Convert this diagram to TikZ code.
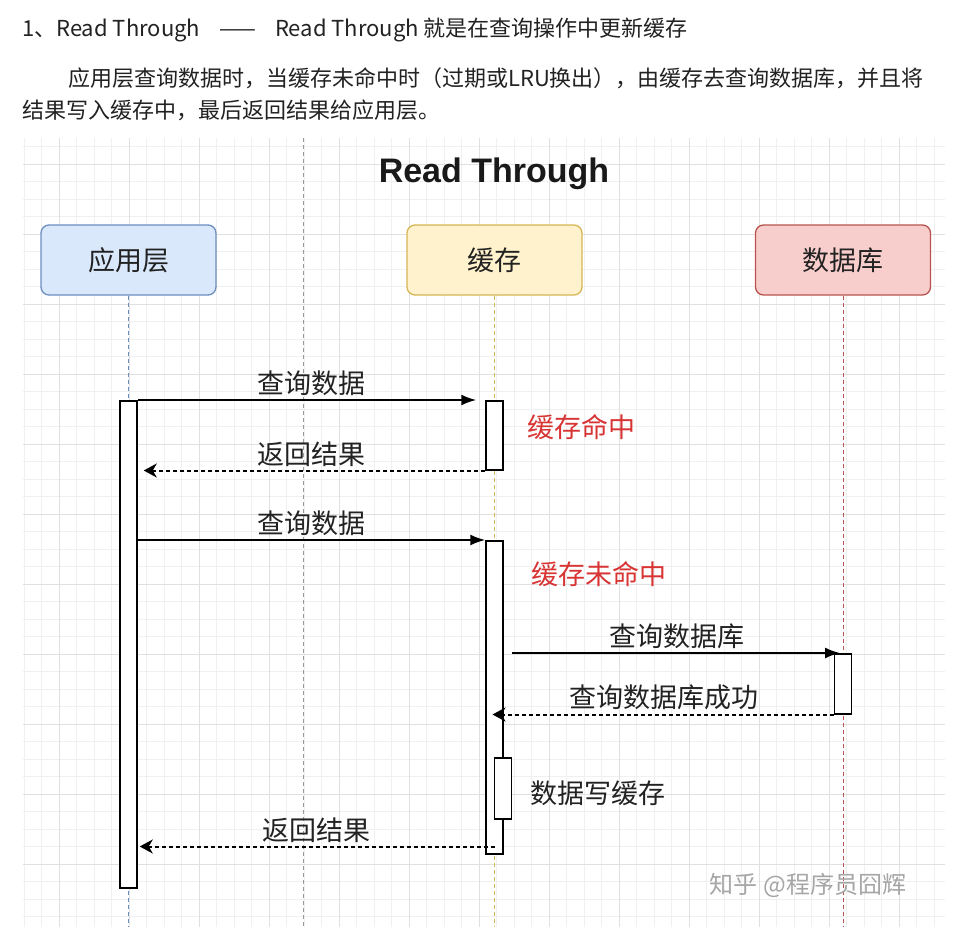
\documentclass[tikz,border=0pt]{standalone}
\usepackage{fontspec}
\setmainfont{Noto Sans CJK SC}
\newfontfamily\titlefont{Liberation Sans}
\usetikzlibrary{arrows.meta,positioning}

\definecolor{appfill}{HTML}{DAE8FC}
\definecolor{appline}{HTML}{6C8EBF}
\definecolor{cachefill}{HTML}{FFF2CC}
\definecolor{cacheline}{HTML}{D6B656}
\definecolor{dbfill}{HTML}{F8CECC}
\definecolor{dbline}{HTML}{B85450}
\definecolor{hitred}{HTML}{D83434}
\definecolor{inkgray}{HTML}{222222}

\tikzset{
    head/.style={inner sep=0pt, text=inkgray, font=\fontsize{22}{26}\selectfont},
    actor/.style={draw, rounded corners=8pt, line width=1.3pt, minimum width=175pt,
        minimum height=70pt, text=inkgray, font=\fontsize{27}{30}\selectfont},
    life/.style={dash pattern=on 4pt off 3pt, line width=1pt},
    bar/.style={draw=black, fill=white, line width=1.5pt, minimum width=17pt, inner sep=0pt},
    msg/.style={line width=1.9pt, -{Latex[length=15pt,width=11pt]}},
    ret/.style={line width=2pt, dash pattern=on 4pt off 3pt, -{Stealth[length=13pt,width=14pt,inset=4pt]}},
    lbl/.style={text=inkgray, font=\fontsize{27}{30}\selectfont},
    note/.style={text=hitred, font=\fontsize{27}{30}\selectfont},
    wmark/.style={text=black!35, font=\fontsize{24}{28}\selectfont}
}

\begin{document}
\begin{tikzpicture}[x=1pt, y=-1pt]
    \useasboundingbox (0,0) rectangle (961,927);
    \fill[white] (0,0) rectangle (961,927);

    % 说明文字
    \node[head, anchor=west] (h1) at (22,30)
        {1、Read Through\hspace{19pt}——\hspace{19pt}Read Through 就是在查询操作中更新缓存};
    \node[head, anchor=west] (h2) at (68,78)
        {应用层查询数据时，当缓存未命中时（过期或LRU换出），由缓存去查询数据库，并且将};
    \node[head, anchor=west] (h3) at (22,110) {结果写入缓存中，最后返回结果给应用层。};

    % 网格
    \begin{scope}
        \foreach \k in {-2,...,50}
            \draw[black!6, line width=0.7pt] ({59+17.5*\k},138) -- ({59+17.5*\k},927);
        \foreach \k in {-1,...,43}
            \draw[black!6, line width=0.7pt] (23,{164+17.5*\k}) -- (945,{164+17.5*\k});
        \foreach \k in {0,...,12}
            \draw[black!12, line width=0.9pt] ({59+70*\k},138) -- ({59+70*\k},927);
        \foreach \k in {0,...,10}
            \draw[black!12, line width=0.9pt] (23,{164+70*\k}) -- (945,{164+70*\k});
        \draw[black!40, life] (303,138) -- (303,927);
    \end{scope}

    % 标题和参与者
    \node[font=\titlefont\bfseries\fontsize{34}{40}\selectfont, text=black!90] (title) at (494,174) {Read Through};
    \node[actor, fill=appfill, draw=appline] (app) at (128.5,260) {应用层};
    \node[actor, fill=cachefill, draw=cacheline] (cache) at (494.5,260) {缓存};
    \node[actor, fill=dbfill, draw=dbline] (db) at (843,260) {数据库};

    % 生命线
    \draw[life, draw=appline] (app.south) -- (app.south |- 0,927);
    \draw[life, draw=cacheline] (cache.south) -- (cache.south |- 0,927);
    \draw[life, draw=dbline] (db.south) -- (db.south |- 0,927);

    % 激活条
    \node[bar, anchor=north, minimum height=487pt] (ab) at (app.south |- 0,400) {};
    \node[bar, anchor=north, minimum height=69pt] (cb1) at (cache.south |- 0,400) {};
    \node[bar, anchor=north, minimum height=313pt] (cb2) at (cache.south |- 0,540) {};
    \node[bar, anchor=north, minimum height=60pt] (db1) at (db.south |- 0,653) {};
    \node[bar, anchor=north, minimum height=61pt] (wb) at ([xshift=8.5pt]cache.south |- 0,757) {};

    % 缓存命中
    \draw[msg, shorten >=9pt] (ab.north east) -- (cb1.north west)
        node[lbl, midway, above] {查询数据};
    \draw[ret, shorten >=6pt] (cb1.south west) -- (ab.east |- cb1.south)
        node[lbl, midway, above] {返回结果};
    \node[note, right=20pt of cb1, yshift=8pt] (hit) {缓存命中};

    % 缓存未命中
    \draw[msg] (ab.east |- cb2.north) -- (cb2.north west)
        node[lbl, midway, above] {查询数据};
    \node[note, anchor=west] (miss) at ([xshift=24pt,yshift=-34pt]cb2.north east) {缓存未命中};
    \draw[msg, shorten >=3pt] ([xshift=8pt]cb2.east |- db1.north) -- (db1.north)
        node[lbl, midway, above] {查询数据库};
    \draw[ret, shorten >=-2pt] (db1.south west) -- (cb2 |- db1.south)
        node[lbl, midway, above] {查询数据库成功};
    \node[lbl, right=15pt of wb, yshift=-5.5pt] (wtxt) {数据写缓存};
    \draw[ret, shorten >=2pt] ([yshift=8pt]cb2.south) -- ([yshift=8pt]ab.east |- cb2.south)
        node[lbl, midway, above] {返回结果};

    % 水印
    \node[wmark] (zh) at (808,885) {知乎 @程序员囧辉};
\end{tikzpicture}
\end{document}
